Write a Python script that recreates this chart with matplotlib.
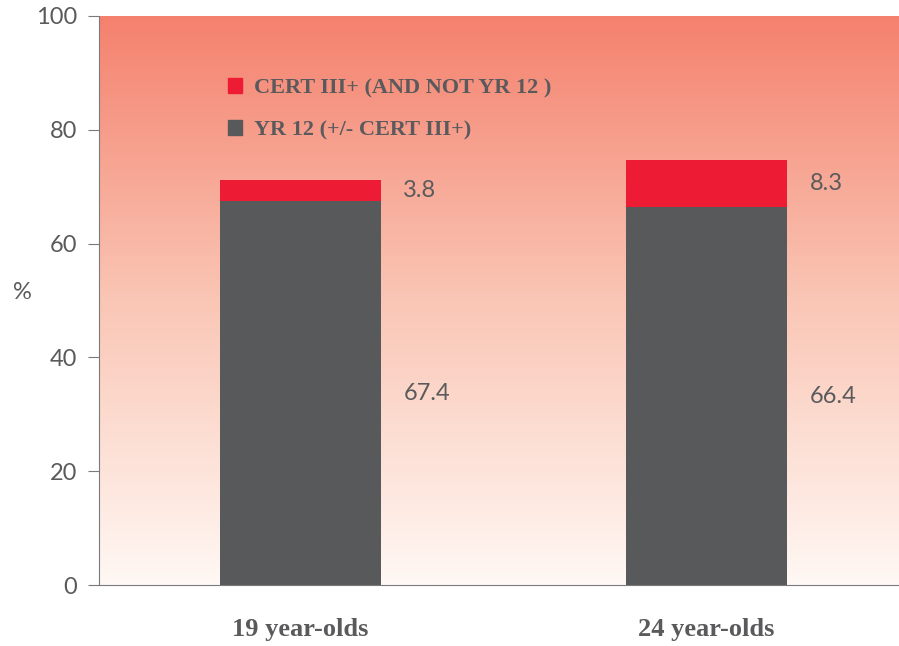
import numpy as np
import matplotlib.pyplot as plt
from matplotlib.patches import Patch
from matplotlib.colors import LinearSegmentedColormap

# data
groups = ['19 year-olds', '24 year-olds']
yr12 = [67.4, 66.4]
cert3 = [3.8, 8.3]
legend_labels = ['CERT III+ (AND NOT YR 12 )', 'YR 12 (+/- CERT III+)']

red = '#ED1B34'
grey = '#58595B'
txt = '#5A5A5C'

fig = plt.figure(figsize=(8.99, 6.46), dpi=100)
ax = fig.add_axes([99 / 899, 1 - 585 / 646, 800 / 899, 569 / 646])

# background gradient
cmap = LinearSegmentedColormap.from_list('bg', ['#FFF8F4', '#FAC6B5', '#F4816E'])
grad = np.linspace(0, 1, 256).reshape(-1, 1)
ax.imshow(grad, cmap=cmap, aspect='auto', origin='lower',
          extent=[0, 1, 0, 1], transform=ax.transAxes, zorder=0)

x = np.arange(len(groups))
w = 0.397
ax.bar(x, yr12, w, color=grey, zorder=2)
ax.bar(x, cert3, w, bottom=yr12, color=red, zorder=2)

for i in range(len(groups)):
    ax.text(x[i] + w / 2 + 0.055, yr12[i] / 2, f'{yr12[i]}', va='center', ha='left',
            fontsize=17, color=txt, family='Lato')
    ax.text(x[i] + w / 2 + 0.055, yr12[i] + cert3[i] / 2, f'{cert3[i]}', va='center',
            ha='left', fontsize=17, color=txt, family='Lato')

ax.set_xlim(-0.496, 1.474)
ax.set_ylim(0, 100)
ax.set_yticks(range(0, 101, 20))
ax.set_xticks(x)
ax.set_xticklabels(groups, fontsize=19, fontweight='bold', family='Liberation Serif', color=txt)
ax.tick_params(axis='x', length=0, pad=24)
ax.tick_params(axis='y', length=8, color='#7A7A7C', labelsize=17, labelcolor=txt, pad=8)
for lab in ax.get_yticklabels():
    lab.set_family('Lato')

for s in ['top', 'right']:
    ax.spines[s].set_visible(False)
ax.spines['left'].set_color('#7A7A7C')
ax.spines['bottom'].set_color('#7A7A7C')

ax.set_ylabel('%', rotation=0, fontsize=17, color=txt, family='Lato')
ax.yaxis.set_label_coords(-0.096, 0.495)

handles = [Patch(color=red), Patch(color=grey)]
leg = ax.legend(handles, legend_labels, loc='upper left', frameon=False,
                bbox_to_anchor=((208 - 99) / 800, 1 - (58 - 16) / 569),
                handlelength=0.65, handleheight=0.65, handletextpad=0.5,
                labelspacing=1.0, prop={'family': 'Liberation Serif', 'weight': 'bold', 'size': 16})
for t in leg.get_texts():
    t.set_color(txt)

fig.savefig('out.png', dpi=100)
